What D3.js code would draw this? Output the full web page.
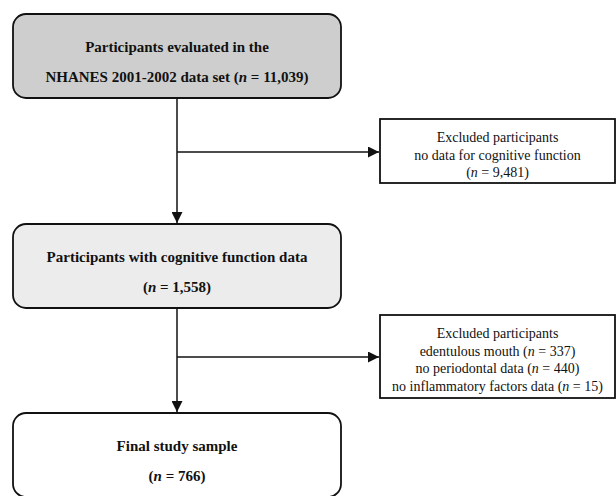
<!DOCTYPE html>
<html>
<head>
<meta charset="utf-8">
<script src="https://cdn.jsdelivr.net/npm/d3@7"></script>
<style>
  body { margin: 0; background: #fff; }
</style>
</head>
<body>
<script>
// flow steps (main column); "#" marks where the italic n count goes
var mainLines = [
  ["Participants evaluated in the", "NHANES 2001-2002 data set (#)"],
  ["Participants with cognitive function data", "(#)"],
  ["Final study sample", "(#)"]
];
var mainCounts = ["11,039", "1,558", "766"];
var mainFills = ["#cecece", "#ececec", "#ffffff"];

// exclusion boxes on the right
var exclLines = [
  ["Excluded participants", "no data for cognitive function", "(#)"],
  ["Excluded participants", "edentulous mouth (#)", "no periodontal data (#)", "no inflammatory factors data (#)"]
];
var exclCounts = [["9,481"], ["337", "440", "15"]];

var W = 616, H = 496;
var FONT = "'Liberation Serif', 'Times New Roman', serif";
var svg = d3.select("body").append("svg")
  .attr("width", W)
  .attr("height", H);

svg.append("defs").append("marker")
  .attr("id", "arr")
  .attr("viewBox", "0 0 10 10")
  .attr("refX", 10).attr("refY", 5)
  .attr("markerWidth", 11).attr("markerHeight", 11)
  .attr("markerUnits", "userSpaceOnUse")
  .attr("orient", "auto")
  .append("path")
  .attr("d", "M0,0L10,5L0,10Z")
  .attr("fill", "#111");

// layout
var mainX = 13, mainW = 328, mainH = 84;
var mainY = [14, 224, 413];
var cx = mainX + mainW / 2;
var exX = 380, exW = 235;
var exY = [119, 315], exH = [64, 83];
var branchY = [152, 357];

// writes a line with italic "n = count" in place of "#"
function writeLine(sel, line, count) {
  var parts = line.split("#");
  sel.append("tspan").text(parts[0]);
  if (parts.length > 1) {
    sel.append("tspan").attr("font-style", "italic").text("n");
    sel.append("tspan").text(" = " + count + parts[1]);
  }
}

// connectors
for (var i = 0; i < 2; i++) {
  svg.append("line")
    .attr("x1", cx).attr("y1", mainY[i] + mainH)
    .attr("x2", cx).attr("y2", mainY[i + 1] - 1)
    .attr("stroke", "#111").attr("stroke-width", 1.5)
    .attr("marker-end", "url(#arr)");
  svg.append("line")
    .attr("x1", cx).attr("y1", branchY[i])
    .attr("x2", exX - 1).attr("y2", branchY[i])
    .attr("stroke", "#111").attr("stroke-width", 1.5)
    .attr("marker-end", "url(#arr)");
}

// main boxes
mainLines.forEach(function(lines, i) {
  svg.append("rect")
    .attr("x", mainX).attr("y", mainY[i])
    .attr("width", mainW).attr("height", mainH)
    .attr("rx", 13).attr("ry", 13)
    .attr("fill", mainFills[i])
    .attr("stroke", "#111").attr("stroke-width", 1.8);
  lines.forEach(function(l, j) {
    var t = svg.append("text")
      .attr("x", cx)
      .attr("y", mainY[i] + 38 + j * 30)
      .attr("text-anchor", "middle")
      .attr("font-family", FONT)
      .attr("font-size", 15)
      .attr("font-weight", "bold")
      .attr("fill", "#111");
    writeLine(t, l, mainCounts[i]);
  });
});

// exclusion boxes
exclLines.forEach(function(lines, i) {
  svg.append("rect")
    .attr("x", exX).attr("y", exY[i])
    .attr("width", exW).attr("height", exH[i])
    .attr("fill", "#fff")
    .attr("stroke", "#111").attr("stroke-width", 1.8);
  var k = 0;
  lines.forEach(function(l, j) {
    var t = svg.append("text")
      .attr("x", exX + exW / 2)
      .attr("y", exY[i] + 23 + j * 17.5)
      .attr("text-anchor", "middle")
      .attr("font-family", FONT)
      .attr("font-size", 14)
      .attr("fill", "#111");
    var c = l.indexOf("#") >= 0 ? exclCounts[i][k++] : null;
    writeLine(t, l, c);
  });
});
</script>
</body>
</html>
